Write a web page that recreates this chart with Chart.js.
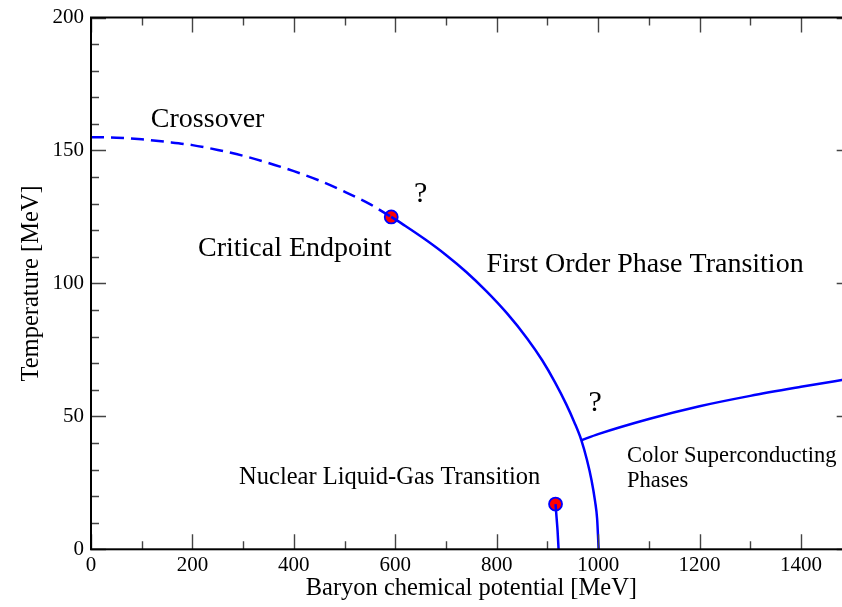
<!DOCTYPE html>
<html>
<head>
<meta charset="utf-8">
<script src="https://cdn.jsdelivr.net/npm/chart.js@4.4.1/dist/chart.umd.min.js"></script>
<style>
  html, body { margin: 0; padding: 0; background: #fff; }
  #wrap { width: 842px; height: 607px; overflow: hidden; }
  canvas { display: block; }
</style>
</head>
<body>
<div id="wrap"><canvas id="phase" width="860" height="607"></canvas></div>
<script>
// values (mu in MeV, T in MeV)
const crossoverMu = [0, 50, 100, 150, 200, 250, 300, 350, 400, 450, 500, 550, 592]
const crossoverT  = [155, 154.8, 154.2, 153.2, 152, 150.2, 148, 145.3, 142.2, 138.7, 134.5, 129.8, 125]

const firstOrderMu = [592, 620, 660, 700, 740, 780, 820, 860, 890, 915, 937, 953, 967, 978, 987, 994, 998, 1001]
const firstOrderT  = [125, 121.6, 116.4, 110.7, 104.3, 97, 88.8, 79.3, 71, 62.8, 54.6, 47.8, 41, 33.6, 26, 18, 11.5, 0]

const cscMu = [967, 1000, 1100, 1200, 1300, 1400, 1500]
const cscT  = [41, 43.3, 49, 53.8, 57.7, 61.1, 64.3]

const nuclearMu = [916, 918, 920, 922]
const nuclearT  = [17, 12, 7, 0]

const endpointMu = [592, 916]
const endpointT  = [125, 17]

const xTicks = [0, 200, 400, 600, 800, 1000, 1200, 1400]
const yTicks = [0, 50, 100, 150, 200]

const SERIF = '"Liberation Serif", "Times New Roman", serif'
const BLUE = '#0000ff'

function toPoints(xs, ys){
	return xs.map((x, i) => ({ x: x, y: ys[i] }))
}

// text written inside the plot: text, anchor (mu, T), size, align
const notes = [
	{ text: 'Crossover', mu: 118, t: 158.8, size: 28, align: 'left' },
	{ text: '?', mu: 650, t: 130.7, size: 30, align: 'center' },
	{ text: 'Critical Endpoint', mu: 211, t: 110.2, size: 28, align: 'left' },
	{ text: 'First Order Phase Transition', mu: 780, t: 104.4, size: 28, align: 'left' },
	{ text: '?', mu: 994, t: 51.9, size: 30, align: 'center' },
	{ text: 'Color Superconducting', mu: 1057, t: 32.9, size: 22.5, align: 'left' },
	{ text: 'Phases', mu: 1057, t: 23.3, size: 22.5, align: 'left' },
	{ text: 'Nuclear Liquid-Gas Transition', mu: 292, t: 24.5, size: 24.5, align: 'left' }
]

// frame, inward ticks on all four sides, and the labels in the plot
const framePlugin = {
	id: 'framePlugin',
	afterDatasetsDraw(chart){
		const ctx = chart.ctx
		const a = chart.chartArea
		const xs = chart.scales.x
		const ys = chart.scales.y
		ctx.save()

		// ticks
		ctx.strokeStyle = '#444'
		ctx.lineWidth = 1.4
		ctx.beginPath()
		for (let v = xs.min; v <= xs.max; v += 100){
			const len = (v % 200 === 0) ? 15 : 8
			const px = Math.round(xs.getPixelForValue(v)) + 0.5
			ctx.moveTo(px, a.bottom); ctx.lineTo(px, a.bottom - len)
			ctx.moveTo(px, a.top); ctx.lineTo(px, a.top + len)
		}
		for (let v = ys.min; v <= ys.max; v += 10){
			const len = (v % 50 === 0) ? 15 : 8
			const py = Math.round(ys.getPixelForValue(v)) + 0.5
			ctx.moveTo(a.left, py); ctx.lineTo(a.left + len, py)
			ctx.moveTo(a.right, py); ctx.lineTo(a.right - len, py)
		}
		ctx.stroke()

		// frame
		ctx.strokeStyle = '#000'
		ctx.lineWidth = 2
		ctx.strokeRect(a.left, a.top, a.right - a.left, a.bottom - a.top)

		// notes
		ctx.fillStyle = '#000'
		ctx.textBaseline = 'alphabetic'
		notes.forEach(n => {
			ctx.font = n.size + 'px ' + SERIF
			ctx.textAlign = n.align
			ctx.fillText(n.text, xs.getPixelForValue(n.mu), ys.getPixelForValue(n.t))
		})
		ctx.restore()
	}
}

new Chart(document.getElementById('phase'), {
	type: 'scatter',
	data: {
		datasets: [
			{
				label: 'Crossover',
				data: toPoints(crossoverMu, crossoverT),
				showLine: true,
				borderColor: BLUE,
				borderWidth: 2.5,
				borderDash: [13, 7],
				pointRadius: 0,
				cubicInterpolationMode: 'monotone'
			},
			{
				label: 'First order',
				data: toPoints(firstOrderMu, firstOrderT),
				showLine: true,
				borderColor: BLUE,
				borderWidth: 2.5,
				pointRadius: 0,
				cubicInterpolationMode: 'monotone'
			},
			{
				label: 'Color superconducting',
				data: toPoints(cscMu, cscT),
				showLine: true,
				borderColor: BLUE,
				borderWidth: 2.5,
				pointRadius: 0,
				cubicInterpolationMode: 'monotone'
			},
			{
				label: 'Nuclear liquid-gas',
				data: toPoints(nuclearMu, nuclearT),
				showLine: true,
				borderColor: BLUE,
				borderWidth: 2.5,
				pointRadius: 0,
				cubicInterpolationMode: 'monotone'
			},
			{
				label: 'Endpoints',
				data: toPoints(endpointMu, endpointT),
				showLine: false,
				pointRadius: 6.5,
				pointBorderWidth: 1.8,
				pointBackgroundColor: '#ff0000',
				pointBorderColor: BLUE
			}
		]
	},
	options: {
		responsive: false,
		animation: false,
		layout: { padding: { top: 16.3, right: 7.75, left: 0, bottom: 0 } },
		plugins: { legend: { display: false }, tooltip: { enabled: false } },
		scales: {
			x: {
				type: 'linear',
				min: 0,
				max: 1500,
				afterFit(scale){ scale.height = 57.7 },
				afterBuildTicks(scale){ scale.ticks = xTicks.map(v => ({ value: v })) },
				grid: { display: false, drawTicks: false },
				border: { display: false },
				ticks: {
					color: '#000',
					padding: 6,
					maxRotation: 0,
					callback: v => String(v),
					font: { family: SERIF, size: 21, lineHeight: 1 }
				},
				title: {
					display: true,
					text: 'Baryon chemical potential [MeV]',
					color: '#000',
					padding: { top: 0, bottom: 5.75 },
					font: { family: SERIF, size: 24.5, lineHeight: 1 }
				}
			},
			y: {
				type: 'linear',
				min: 0,
				max: 200,
				afterFit(scale){ scale.width = 91 },
				afterBuildTicks(scale){ scale.ticks = yTicks.map(v => ({ value: v })) },
				grid: { display: false, drawTicks: false },
				border: { display: false },
				ticks: {
					color: '#000',
					padding: 7,
					callback: v => String(v),
					font: { family: SERIF, size: 21, lineHeight: 1 }
				},
				title: {
					display: true,
					text: 'Temperature [MeV]',
					color: '#000',
					padding: { top: 19.3, bottom: 0 },
					font: { family: SERIF, size: 24.5, lineHeight: 1 }
				}
			}
		}
	},
	plugins: [framePlugin]
})
</script>
</body>
</html>
